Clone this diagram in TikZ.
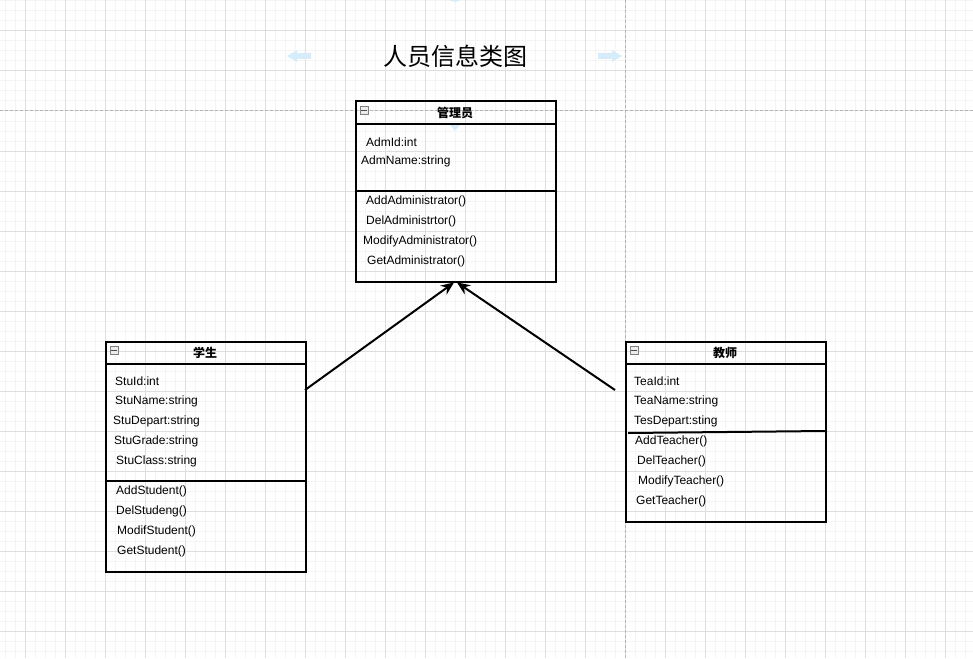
\documentclass[tikz,border=0pt]{standalone}
\usepackage{fontspec}
\setmainfont{Liberation Sans}
\newfontfamily\cjk{Noto Sans CJK SC}
\usepackage{xcolor}
\usetikzlibrary{arrows.meta}
\usetikzlibrary{positioning}
\definecolor{gridminor}{HTML}{F4F4F4}
\definecolor{gridmajor}{HTML}{DEDEDE}
\definecolor{griddash}{HTML}{B4B4B4}
\definecolor{hintblue}{HTML}{D6ECFA}
\tikzset{%
  classbox/.style={rectangle,draw=black,line width=2,fill=none,inner sep=0pt,anchor=north west}
}
\tikzset{%
  member/.style={anchor=west,inner sep=0pt,yshift=-1,font=\fontsize{12}{14}\selectfont},
  classname/.style={inner sep=0pt,font=\cjk\bfseries\fontsize{12}{14}\selectfont},
  collapse/.style={rectangle,draw=gray,fill=gray!15,line width=0.8,minimum width=8,minimum height=8,inner sep=0pt},
  inherit/.style={line width=2,-{Stealth[length=13,width=11]}}
}
\newcommand{\minusmark}[1]{\draw[line width=0.8,black!70] ([xshift=1.5]#1.west) -- ([xshift=-1.5]#1.east);}

\begin{document}
\begin{tikzpicture}[x=1pt,y=-1pt]
            \useasboundingbox (0,0) rectangle (973,658);
            % grid
            \fill[white] (0,0) rectangle (973,658);
            \foreach \gx in {5,15,...,965} \draw[gridminor,line width=1] (\gx,0) -- (\gx,658);
            \foreach \gy in {1,11,...,651} \draw[gridminor,line width=1] (0,\gy) -- (973,\gy);
            \foreach \gx in {25,65,...,945} \draw[gridmajor,line width=1] (\gx,0) -- (\gx,658);
            \foreach \gy in {31,71,...,631} \draw[gridmajor,line width=1] (0,\gy) -- (973,\gy);
            \draw[griddash,line width=1,dash pattern=on 3 off 2] (625,0) -- (625,658);
            \draw[griddash,line width=1,dash pattern=on 3 off 2] (0,111) -- (973,111);

            % hints
            \fill[hintblue] (287,56) -- (297,50) -- (297,53) -- (311,53) -- (311,59) -- (297,59) -- (297,62) -- cycle;
            \fill[hintblue] (622,56) -- (612,50) -- (612,53) -- (598,53) -- (598,59) -- (612,59) -- (612,62) -- cycle;
            \fill[hintblue] (449,124) -- (461,124) -- (455,131) -- cycle;
            \fill[hintblue] (449,0) -- (461,0) -- (455,2) -- cycle;

            \node[font=\cjk\fontsize{24}{28}\selectfont](title) at (455,56) {人员信息类图};

            % admin
            \node[classbox,minimum width=200,minimum height=180](adm) at (354.5,100.5) {};
            \node[classname](admname) at (455,113) {管理员};
            \node[collapse](admicon) at (364,110) {};
            \minusmark{admicon}
            \draw[line width=2] (355,124) -- (555,124);
            \draw[line width=2] (355,191) -- (555,191);
            \foreach \dx/\dy/\t [count=\i] in {366/141/AdmId:int, 361/160/AdmName:string,
                366/200/AddAdministrator(), 366/220/DelAdministrtor(),
                363/240/ModifyAdministrator(), 367/260/GetAdministrator()}
                \node[member](adm\i) at (\dx,\dy) {\t};

            % student
            \node[classbox,minimum width=200,minimum height=230](stu) at (104.5,340.5) {};
            \node[classname](stuname) at (205,353) {学生};
            \node[collapse](stuicon) at (114,350) {};
            \minusmark{stuicon}
            \draw[line width=2] (105,364) -- (305,364);
            \draw[line width=2] (105,481) -- (305,481);
            \foreach \dx/\dy/\t [count=\i] in {115/380/StuId:int, 115/400/StuName:string,
                113/420/StuDepart:string, 114/440/StuGrade:string, 116/460/StuClass:string,
                116/490/AddStudent(), 116/510/DelStudeng(), 117/530/ModifStudent(),
                117/550/GetStudent()}
                \node[member](stu\i) at (\dx,\dy) {\t};

            % teacher
            \node[classbox,minimum width=200,minimum height=180](tea) at (624.5,340.5) {};
            \node[classname](teaname) at (725,353) {教师};
            \node[collapse](teaicon) at (634,350) {};
            \minusmark{teaicon}
            \draw[line width=2] (625,364) -- (825,364);
            \draw[line width=2] (628,433) -- (825,431);
            \foreach \dx/\dy/\t [count=\i] in {634/380/TeaId:int, 634/400/TeaName:string,
                634/420/TesDepart:sting, 635/440/AddTeacher(), 637/460/DelTeacher(),
                638/480/ModifyTeacher(), 636/500/GetTeacher()}
                \node[member](tea\i) at (\dx,\dy) {\t};

            % inheritance
            \coordinate(stuout) at (305,390);
            \coordinate(teaout) at (615,390);
            \draw[inherit] (stuout) -- (adm.south -| 454,0);
            \draw[inherit] (teaout) -- (adm.south -| 457,0);
        \end{tikzpicture}
\end{document}
